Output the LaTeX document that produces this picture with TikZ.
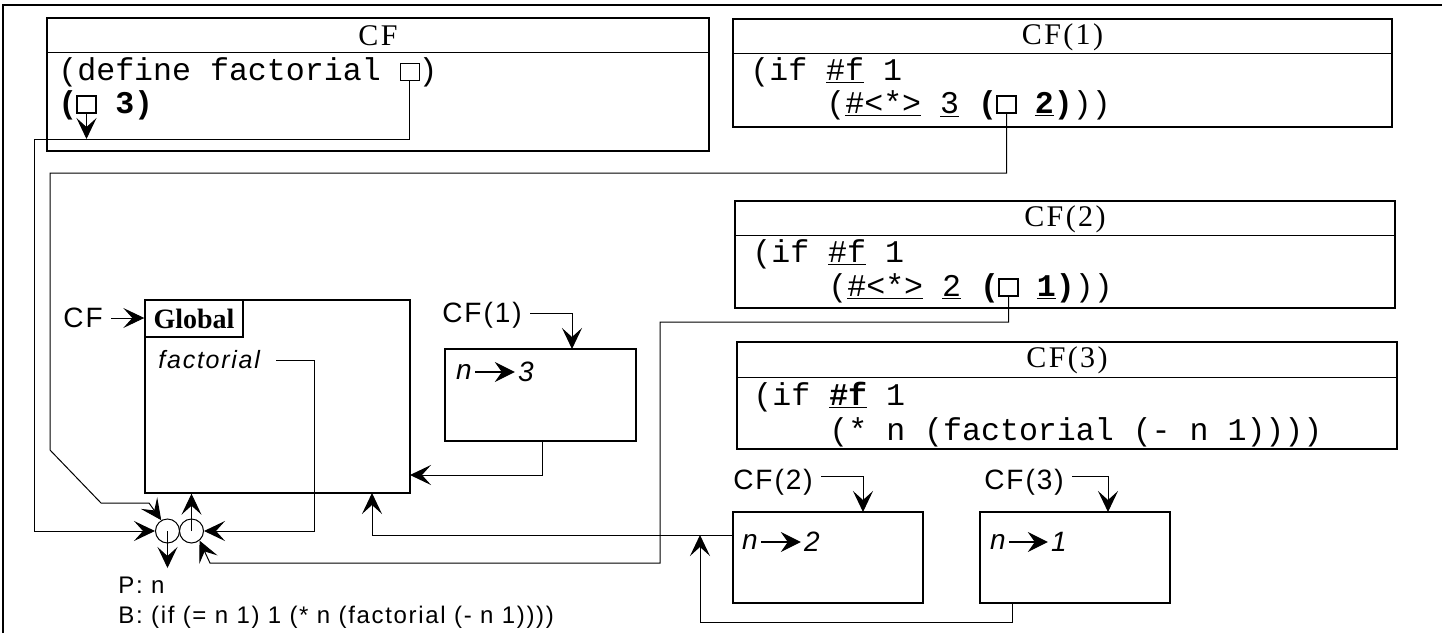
\documentclass[tikz,border=0pt]{standalone}
\usepackage{fontspec}
\setmainfont{Liberation Serif}
\newfontfamily\codefont{Liberation Mono}
\newfontfamily\headfont[LetterSpace=8]{Liberation Serif}
\newfontfamily\lblfont[LetterSpace=7]{Liberation Sans}
\usetikzlibrary{arrows.meta, positioning}
\frenchspacing

\begin{document}
\begin{tikzpicture}[
        x=0.5pt, y=-0.5pt,
        box/.style={draw, line width=0.7pt, inner sep=0pt},
        code/.style={anchor=base west, inner sep=0pt,
                     font=\codefont\fontsize{15.8}{18}\selectfont},
        head/.style={inner sep=0pt, font=\headfont\fontsize{15}{18}\selectfont},
        lbl/.style={inner xsep=4pt, inner ysep=0pt,
                    font=\lblfont\fontsize{14}{17}\selectfont},
        note/.style={anchor=west, inner sep=0pt,
                     font=\lblfont\fontsize{12}{15}\selectfont},
        envtxt/.style={inner xsep=2pt, inner ysep=0pt,
                       font=\lblfont\itshape\fontsize{12.5}{15}\selectfont},
        valtxt/.style={inner xsep=1.5pt, inner ysep=0pt,
                       font=\lblfont\itshape\fontsize{14}{17}\selectfont},
        sq/.style={draw, line width=0.5pt, anchor=south, inner sep=0pt,
                   minimum width=9.5pt, minimum height=8.5pt},
        sqbold/.style={sq, line width=1.2pt},
        ring/.style={draw, circle, line width=0.5pt, minimum size=12pt, inner sep=0pt},
        ptr/.style={-{Stealth[length=10.5pt, width=10pt, inset=4.5pt]}, line width=0.5pt},
        bind/.style={-{Stealth[length=10pt, width=10pt, inset=3.5pt]}, line width=0.6pt},
      ]
        \useasboundingbox (0,0) rectangle (1442,633);
        \draw[line width=1pt] (3,633) -- (3,5) -- (1442,5);

        % Code frames
        \node[box, minimum width=331pt, minimum height=66.5pt] (cf) at (378,84.5) {};
        \draw[box] ([yshift=-17.5pt]cf.north west) -- ([yshift=-17.5pt]cf.north east);
        \node[head] at (378,36) {CF};
        \node[code] (cfl1) at (58,80) {(define factorial\ \ )};
        \node[code] (cfl2) at (58,113) {\bfseries(\ \ 3)};
        \node[sq] (sqdef) at (409.5,81) {};
        \node[sqbold] (sqop) at (86.5,114) {};

        \node[box, minimum width=329.5pt, minimum height=54pt] (cfa) at (1062.5,73) {};
        \draw[box] ([yshift=-17.5pt]cfa.north west) -- ([yshift=-17.5pt]cfa.north east);
        \node[head] at (1062.5,37) {CF(1)};
        \node[code] (cfal1) at (750,80) {(if \underline{\#f} 1};
        \node[code] (cfal2) at (826,113)
          {(\underline{\#<*>} \underline{3} \textbf{(}\ \ \textbf{\underline{2})}))};
        \node[sqbold] (sqone) at (1006.5,114) {};

        \node[box, minimum width=330pt, minimum height=53.5pt] (cfb) at (1065,254.5) {};
        \draw[box] ([yshift=-17.5pt]cfb.north west) -- ([yshift=-17.5pt]cfb.north east);
        \node[head] at (1065,219) {CF(2)};
        \node[code] (cfbl1) at (752,262) {(if \underline{\#f} 1};
        \node[code] (cfbl2) at (828,296)
          {(\underline{\#<*>} \underline{2} \textbf{(}\ \ \textbf{\underline{1})}))};
        \node[sqbold] (sqtwo) at (1008.5,297) {};

        \node[box, minimum width=330pt, minimum height=53.5pt] (cfc) at (1067,395.5) {};
        \draw[box] ([yshift=-18pt]cfc.north west) -- ([yshift=-18pt]cfc.north east);
        \node[head] at (1067,360.5) {CF(3)};
        \node[code] (cfcl1) at (753,405) {(if \textbf{\underline{\#f}} 1};
        \node[code] (cfcl2) at (829,440) {(* n (factorial (- n 1))))};

        % Environments
        \node[box, minimum width=132.5pt, minimum height=96.5pt] (global) at (277.5,396.5) {};
        \node[box, anchor=north west, minimum width=49pt, minimum height=18.5pt,
              font=\bfseries\fontsize{14}{16}\selectfont] (glbl) at (global.north west) {Global};
        \node[envtxt, anchor=west] (fact) at (154,360) {factorial};
        \node[lbl] (cflbl) at (83,318) {CF};
        \draw[ptr] (cflbl.east) -- (cflbl.east -| glbl.west);

        \node[box, minimum width=95.5pt, minimum height=46pt] (enva) at (540.5,395) {};
        \node[valtxt] (na) at (464,372) {n};
        \node[valtxt] (va) at (526,372) {3};
        \draw[bind] (na) -- (va);
        \node[lbl] (cfalbl) at (482,315) {CF(1)};
        \coordinate (ta) at (572,349);
        \draw[ptr] ([yshift=1pt]cfalbl.east) -| (ta);

        \node[box, minimum width=95pt, minimum height=45.5pt] (envb) at (828,557.5) {};
        \node[valtxt] (nb) at (750,542) {n};
        \node[valtxt] (vb) at (812,542) {2};
        \draw[bind] (nb) -- (vb);
        \node[lbl] (cfblbl) at (773,482) {CF(2)};
        \coordinate (tb) at (863,512);
        \draw[ptr] ([yshift=3pt]cfblbl.east) -| (tb);

        \node[box, minimum width=95pt, minimum height=45.5pt] (envc) at (1075,557.5) {};
        \node[valtxt] (nc) at (998,542) {n};
        \node[valtxt] (vc) at (1059,542) {1};
        \draw[bind] (nc) -- (vc);
        \node[lbl] (cfclbl) at (1024,482) {CF(3)};
        \coordinate (tc) at (1108,512);
        \draw[ptr] ([yshift=3pt]cfclbl.east) -| (tc);

        % Procedure object
        \node[ring] (cl) at (167.5,531) {};
        \node[ring] (cr) at (191.5,531) {};
        \draw[ptr] (cr.center) -- (cr.center |- global.south);
        \draw[ptr] (cl.center) -- ++(0,37);
        \node[note] (ptxt) at (118,585) {P: n};
        \node[note] (btxt) at (118,617) {B: (if (= n 1) 1 (* n (factorial (- n 1))))};

        % Pointers
        \coordinate (k1) at (34,139);
        \draw[ptr] (sqdef.south) |- (k1) |- (cl.west);
        \draw[ptr] (sqop.south) -- (sqop.south |- k1);
        \draw[ptr] (sqone.south) |- (50,173) -- (50,450) -- (101,503) -- (149,503) -- (cl.120);
        \draw[ptr] (sqtwo.south) |- (660,322) |- (210,563) -- (cr.-50);
        \draw[ptr] ([xshift=6pt]fact.east) -- (314,360) |- (cr.east);

        \coordinate (gin) at (410,475);
        \coordinate (ab) at (542,441);
        \draw[ptr] (ab) |- (gin);
        \coordinate (gb) at (372,493);
        \coordinate (bp) at (733,535);
        \draw[ptr] (bp) -| (gb);
        \coordinate (cs) at (1012,603);
        \coordinate (bq) at (700,535);
        \draw[ptr] (cs) -- (1012,622) -| (bq);
      \end{tikzpicture}
\end{document}
